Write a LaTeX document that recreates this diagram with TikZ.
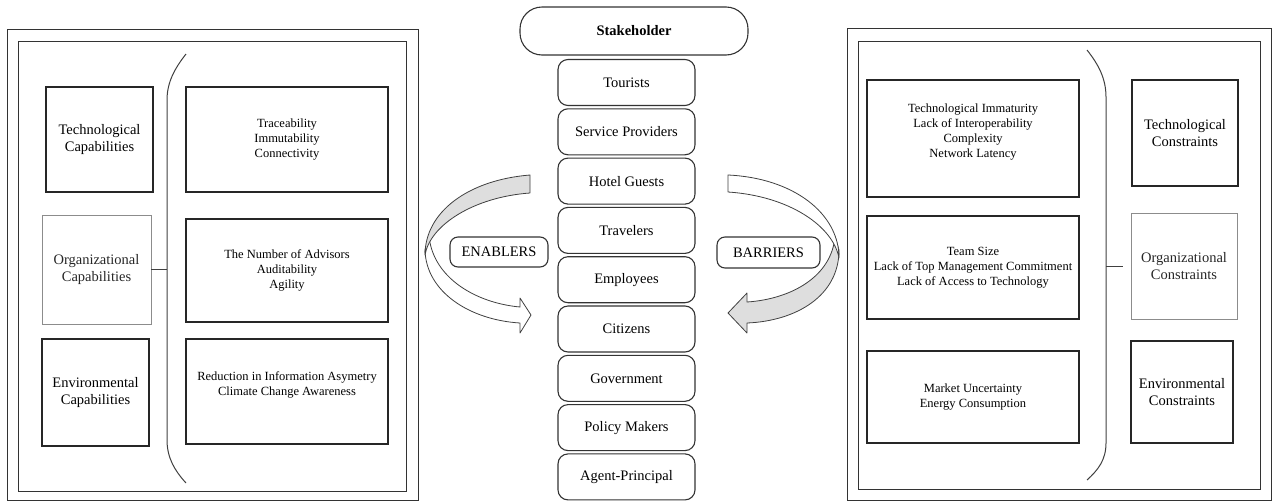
\documentclass[tikz,border=0pt]{standalone}
\usepackage{fontspec}
\setmainfont{Liberation Serif}
\begin{document}
\begin{tikzpicture}[x=1pt,y=-1pt]
\tikzset{
  panel/.style={draw=black!80, line width=1pt},
  sqbox/.style={draw=black!85, line width=1.2pt, inner sep=0pt, outer sep=0pt, align=center, font=\fontsize{14.5}{17}\selectfont},
  greybox/.style={sqbox, draw=black!45, line width=0.7pt, text=black!85},
  itembox/.style={draw=black!85, line width=1.2pt, inner sep=0pt, outer sep=0pt, align=center, font=\fontsize{12.5}{15}\selectfont},
  pill/.style={draw=black!80, line width=1.1pt, rounded corners=10pt, inner sep=0pt, outer sep=0pt, minimum width=137pt, minimum height=46pt, font=\fontsize{14.5}{17}\selectfont},
  tagbox/.style={draw=black!80, line width=1.1pt, rounded corners=8pt, inner sep=0pt, font=\fontsize{14.5}{17}\selectfont},
  bracket/.style={draw=black!75, line width=1pt},
  arrowband/.style={draw=black!75, line width=0.8pt, line join=round},
}
\useasboundingbox (0,0) rectangle (1273,501);

% ---------- left panel ----------
\draw[panel] (7,29) rectangle (418,500);
\draw[panel] (18,41) rectangle (406,491);
\node[sqbox, minimum width=107pt, minimum height=105pt] (tc) at (99.5,139.5) {Technological\\Capabilities};
\node[greybox, minimum width=109pt, minimum height=109pt] (oc) at (96.5,269.5) {Organizational\\Capabilities};
\node[sqbox, minimum width=107pt, minimum height=107pt] (ec) at (95.5,392.5) {Environmental\\Capabilities};
\node[itembox, minimum width=202pt, minimum height=105pt] (l1) at (287,139.5) {Traceability\\Immutability\\Connectivity};
\node[itembox, minimum width=202pt, minimum height=103pt] (l2) at (287,270.5) {The Number of Advisors\\Auditability\\Agility};
\node[itembox, minimum width=202pt, minimum height=105pt] (l3) at (287,391.5) {Reduction in Information Asymetry\\Climate Change Awareness\\\mbox{}};
\draw[bracket] (186,54) .. controls (175,68) and (167,82) .. (167,100) -- (167,440) .. controls (167,458) and (175,471) .. (186,483);
\coordinate (lb) at (167,269.5);
\draw[bracket] (oc.east) -- (lb);

% ---------- right panel ----------
\draw[panel] (847,28) rectangle (1271,500);
\draw[panel] (858,41) rectangle (1260,489);
\node[itembox, minimum width=212pt, minimum height=117pt] (r1) at (973,138.5) {Technological Immaturity\\Lack of Interoperability\\Complexity\\Network Latency\\\mbox{}};
\node[itembox, minimum width=212pt, minimum height=103pt] (r2) at (973,267.5) {Team Size\\Lack of Top Management Commitment\\Lack of Access to Technology};
\node[itembox, minimum width=212pt, minimum height=92pt] (r3) at (973,397) {Market Uncertainty\\Energy Consumption};
\node[sqbox, minimum width=106pt, minimum height=106pt] (tcn) at (1185,133) {Technological\\Constraints};
\node[greybox, minimum width=106pt, minimum height=106pt] (ocn) at (1184,266) {Organizational\\Constraints};
\node[sqbox, minimum width=102pt, minimum height=102pt] (ecn) at (1182,392) {Environmental\\Constraints};
\draw[bracket] (1087,50) .. controls (1098,64) and (1106,78) .. (1106,97) -- (1106,443) .. controls (1106,460) and (1098,470) .. (1087,480);
\coordinate (rb) at (1106,266);
\coordinate (rbe) at (1123,266);
\draw[bracket] (rb) -- (rbe);

% ---------- center stack ----------
\node[pill, rounded corners=22pt, minimum width=228pt, minimum height=48pt, font=\bfseries\fontsize{14.5}{17}\selectfont] (sh) at (634,31) {Stakeholder};
\node[pill] (s1) at (626.5,82.5) {Tourists};
\node[pill] (s2) at (626.5,131.8) {Service Providers};
\node[pill] (s3) at (626.5,181.1) {Hotel Guests};
\node[pill] (s4) at (626.5,230.4) {Travelers};
\node[pill] (s5) at (626.5,279.7) {Employees};
\node[pill] (s6) at (626.5,329.0) {Citizens};
\node[pill] (s7) at (626.5,378.3) {Government};
\node[pill] (s8) at (626.5,427.6) {Policy Makers};
\node[pill] (s9) at (626.5,476.9) {Agent-Principal};

% ---------- enablers arrow ----------
\draw[arrowband, fill=white] (425,250) .. controls (426,292) and (470,320) .. (520,323) -- (520,333) -- (531,315) -- (520,298) -- (520,307) .. controls (476,303) and (433,278) .. (429,236) -- cycle;
\draw[arrowband, fill=black!13] (530,175) .. controls (468,180) and (425,212) .. (425,255) .. controls (430,225) and (474,197) .. (530,193) -- cycle;
\node[tagbox, minimum width=98pt, minimum height=30pt] (en) at (499,252) {ENABLERS};

% ---------- barriers arrow ----------
\draw[arrowband, fill=black!13] (839,250) .. controls (839,296) and (796,321) .. (747,323) -- (747,333) -- (728,313) -- (747,293) -- (747,302) .. controls (792,299) and (832,276) .. (835,236) -- cycle;
\draw[arrowband, fill=white] (728,175) .. controls (793,178) and (839,213) .. (839,258) .. controls (833,226) and (789,196) .. (728,192) -- cycle;
\node[tagbox, minimum width=103pt, minimum height=31pt] (ba) at (768.5,252.5) {BARRIERS};
\end{tikzpicture}
\end{document}
